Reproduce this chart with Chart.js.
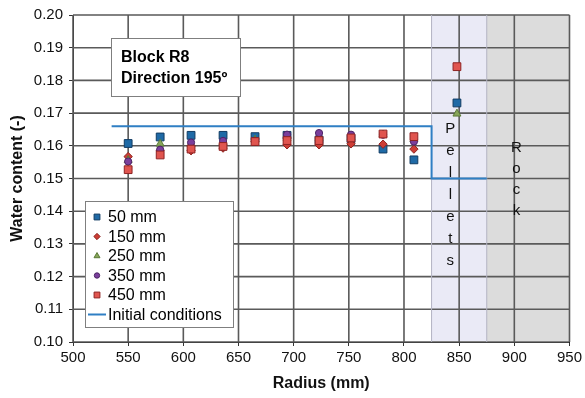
<!DOCTYPE html>
<html>
<head>
<meta charset="utf-8">
<script src="https://cdn.jsdelivr.net/npm/chart.js@4.4.1/dist/chart.umd.min.js"></script>
<style>
  html, body { margin: 0; padding: 0; background: #fff; }
  #wrap { width: 585px; height: 398px; }
</style>
</head>
<body>
<div id="wrap"><canvas id="chart" width="585" height="398"></canvas></div>
<script>
// Sampling radii (mm) and measured water content per depth
const radius = [550, 579, 607, 636, 665, 694, 723, 752, 781, 809, 848];
const wc50  = [0.1607, 0.1627, 0.1632, 0.1632, 0.1628, 0.1632, 0.1618, 0.1622, 0.1590, 0.1557, 0.1731];
const wc150 = [0.1567, 0.1585, 0.1585, 0.1593, 0.1613, 0.1603, 0.1603, 0.1606, 0.1605, 0.1590, null];
const wc250 = [0.1556, 0.1606, 0.1605, 0.1610, 0.1618, 0.1622, 0.1622, 0.1625, 0.1634, 0.1620, 0.1698];
const wc350 = [0.1552, 0.1588, 0.1610, 0.1615, 0.1615, 0.1634, 0.1639, 0.1634, 0.1634, 0.1613, null];
const wc450 = [0.1527, 0.1572, 0.1590, 0.1598, 0.1613, 0.1616, 0.1616, 0.1624, 0.1636, 0.1628, 0.1842];

// Initial conditions step line
const initRadius = [535, 825, 825, 875];
const initWater  = [0.166, 0.166, 0.150, 0.150];

// Zones along the radius
const pelletsZone = [825, 875];
const rockZone = [875, 950];

const FONT = "'Liberation Sans', Arial, sans-serif";

function toPoints(xs, ys) {
    const pts = [];
    xs.forEach(function (x, i) {
        if (ys[i] !== null) pts.push({ x: x, y: ys[i] });
    });
    return pts;
}

function series(label, values, style, r, fill, border, order) {
    return {
        label: label,
        data: toPoints(radius, values),
        showLine: false,
        pointStyle: style,
        pointRadius: r,
        pointHoverRadius: r,
        backgroundColor: fill,
        borderColor: border,
        borderWidth: 1,
        order: order
    };
}

const datasets = [
    series('50 mm', wc50, 'rect', 5.5, '#1f6aa6', '#123c63', 4),
    series('150 mm', wc150, 'rectRot', 4.2, '#cc3d35', '#8e2420', 3),
    series('250 mm', wc250, 'triangle', 4.6, '#87a55a', '#5a7a36', 2),
    series('350 mm', wc350, 'circle', 3.6, '#7a3f9c', '#4d2466', 1),
    series('450 mm', wc450, 'rect', 5.5, '#e0554f', '#8e2323', 0),
    {
        label: 'Initial conditions',
        data: toPoints(initRadius, initWater),
        showLine: true,
        fill: false,
        borderColor: '#2f7fc4',
        backgroundColor: '#2f7fc4',
        borderWidth: 2,
        pointRadius: 0,
        pointStyle: 'line',
        order: 5
    }
];

// Shaded zones and grid lines, under the data
const zones = {
    id: 'zones',
    beforeDatasetsDraw(chart) {
        const { ctx, chartArea: a, scales: { x, y } } = chart;
        ctx.save();
        const p0 = x.getPixelForValue(pelletsZone[0]), p1 = x.getPixelForValue(pelletsZone[1]);
        const r0 = x.getPixelForValue(rockZone[0]), r1 = x.getPixelForValue(rockZone[1]);
        ctx.fillStyle = '#eaeaf6';
        ctx.fillRect(p0, a.top, p1 - p0, a.bottom - a.top - 1);
        ctx.fillStyle = '#dcdcdc';
        ctx.fillRect(r0, a.top, r1 - r0, a.bottom - a.top - 1);

        // grid lines at every tick
        ctx.strokeStyle = '#5a5a5a';
        ctx.lineWidth = 1.6;
        ctx.beginPath();
        x.ticks.forEach(function (t) {
            const px = x.getPixelForValue(t.value);
            ctx.moveTo(px, a.top); ctx.lineTo(px, a.bottom);
        });
        y.ticks.forEach(function (t) {
            const py = y.getPixelForValue(t.value);
            ctx.moveTo(a.left, py); ctx.lineTo(a.right, py);
        });
        ctx.stroke();

        ctx.strokeStyle = '#b4b4c4';
        ctx.lineWidth = 1;
        ctx.beginPath();
        ctx.moveTo(p0, a.top); ctx.lineTo(p0, a.bottom);
        ctx.moveTo(r0, a.top); ctx.lineTo(r0, a.bottom);
        ctx.stroke();
        ctx.restore();
    }
};

// Vertical zone names, the title box and the legend
const labels = {
    id: 'labels',
    afterDatasetsDraw(chart) {
        const { ctx, chartArea: a, scales: { x, y } } = chart;
        ctx.save();

        ctx.fillStyle = '#111';
        ctx.font = '15px ' + FONT;
        ctx.textAlign = 'center';
        ctx.textBaseline = 'middle';
        'Pellets'.split('').forEach(function (c, i) {
            ctx.fillText(c, x.getPixelForValue(842), y.getPixelForValue(0.1653) + i * 22);
        });
        'Rock'.split('').forEach(function (c, i) {
            ctx.fillText(c, x.getPixelForValue(902), y.getPixelForValue(0.1594) + i * 21);
        });

        // title box
        const tx = Math.round(a.left) + 38, ty = Math.round(a.top) + 23;
        ctx.fillStyle = '#fff';
        ctx.fillRect(tx, ty, 129, 58);
        ctx.strokeStyle = '#7f7f7f';
        ctx.lineWidth = 1;
        ctx.strokeRect(tx + 0.5, ty + 0.5, 129, 58);
        ctx.fillStyle = '#000';
        ctx.font = 'bold 16px ' + FONT;
        ctx.textAlign = 'left';
        ctx.fillText('Block R8', tx + 10, ty + 20);
        ctx.fillText('Direction 195\u00ba', tx + 10, ty + 41);

        // legend
        const lx = Math.round(a.left) + 12, ly = Math.round(a.bottom) - 141;
        ctx.fillStyle = '#fff';
        ctx.fillRect(lx, ly, 148, 126);
        ctx.strokeStyle = '#7f7f7f';
        ctx.strokeRect(lx + 0.5, ly + 0.5, 148, 126);
        ctx.font = '16px ' + FONT;
        chart.data.datasets.forEach(function (ds, i) {
            const cy = ly + 16 + i * 19.5;
            if (ds.showLine) {
                ctx.strokeStyle = ds.borderColor;
                ctx.lineWidth = 2;
                ctx.beginPath();
                ctx.moveTo(lx + 3, cy);
                ctx.lineTo(lx + 21, cy);
                ctx.stroke();
            } else {
                ctx.fillStyle = ds.backgroundColor;
                ctx.strokeStyle = ds.borderColor;
                ctx.lineWidth = 1;
                Chart.helpers.drawPoint(ctx, {
                    pointStyle: ds.pointStyle,
                    radius: ds.pointRadius * 0.75,
                    rotation: 0,
                    borderWidth: 1
                }, lx + 12, cy);
            }
            ctx.fillStyle = '#000';
            ctx.fillText(ds.label, lx + 23, cy + 1);
        });

        ctx.restore();
    }
};

new Chart(document.getElementById('chart'), {
    type: 'scatter',
    data: { datasets: datasets },
    options: {
        responsive: false,
        animation: false,
        layout: { padding: { top: 15, right: 12, left: 0, bottom: 0 } },
        plugins: {
            legend: { display: false },
            tooltip: { enabled: false }
        },
        scales: {
            x: {
                type: 'linear',
                min: 500,
                max: 950,
                afterFit: function (s) { s.height = 56; },
                ticks: {
                    stepSize: 50,
                    color: '#111',
                    padding: 3,
                    font: { family: FONT, size: 15 }
                },
                grid: { drawOnChartArea: false, color: '#333', tickLength: 4 },
                border: { color: '#000', width: 1 },
                title: {
                    display: true,
                    text: 'Radius (mm)',
                    color: '#111',
                    padding: { top: 0, bottom: 5 },
                    font: { family: FONT, size: 16, weight: 'bold' }
                }
            },
            y: {
                type: 'linear',
                min: 0.10,
                max: 0.20,
                afterFit: function (s) { s.width = 73; },
                ticks: {
                    stepSize: 0.01,
                    color: '#111',
                    padding: 6,
                    font: { family: FONT, size: 15 },
                    callback: function (v) { return v.toFixed(2); }
                },
                grid: { drawOnChartArea: false, color: '#333', tickLength: 4 },
                border: { color: '#000', width: 1 },
                title: {
                    display: true,
                    text: 'Water content (-)',
                    color: '#111',
                    padding: { top: 8, bottom: 0 },
                    font: { family: FONT, size: 16, weight: 'bold' }
                }
            }
        }
    },
    plugins: [zones, labels]
});
</script>
</body>
</html>
